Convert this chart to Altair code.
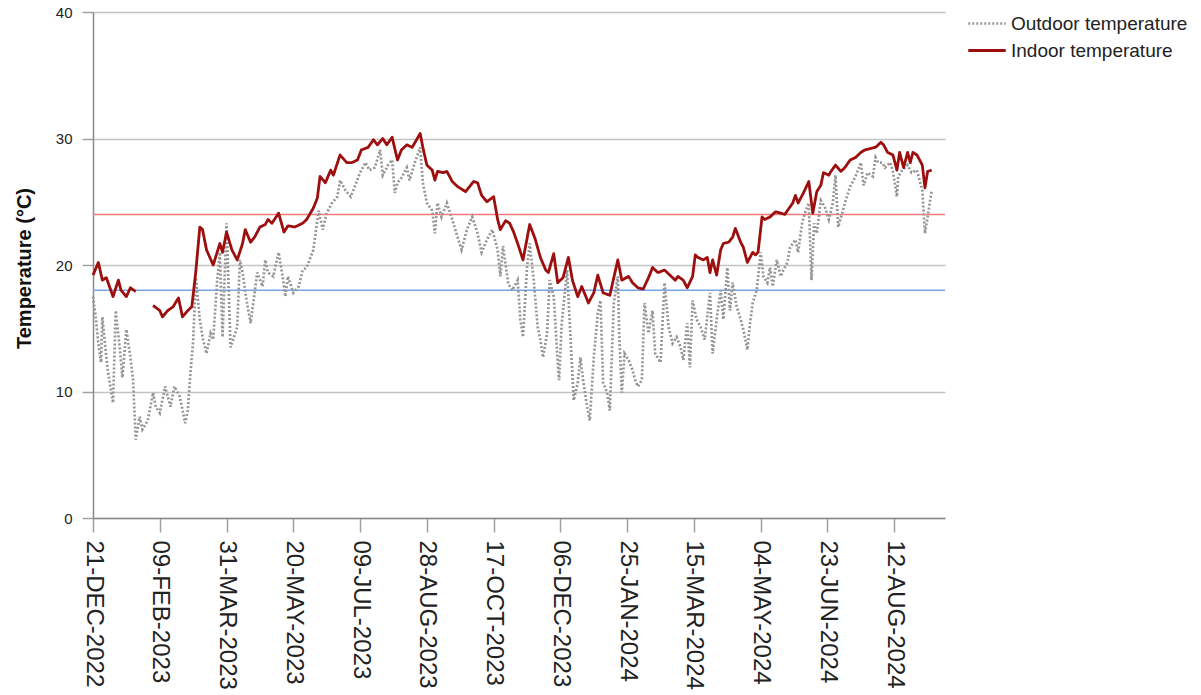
import altair as alt
import pandas as pd

START = pd.Timestamp("2022-12-21")

# Daily mean outdoor temperature (°C), sampled by day offset from START
outdoor_day = [
    0, 2, 4, 6, 7, 10, 11, 15, 17, 20, 22, 25, 28, 30, 32, 35, 37, 41, 45, 47,
    50, 54, 58, 61, 65, 69, 71, 73, 75, 77, 80, 82, 85, 88, 90, 93, 95, 97, 100, 103,
    105, 108, 110, 112, 115, 118, 120, 123, 127, 129, 131, 135, 139, 142, 144, 146, 150, 154, 157, 160,
    165, 169, 172, 175, 179, 183, 185, 189, 193, 196, 200, 204, 207, 211, 215, 217, 221, 224, 226, 228,
    231, 235, 237, 241, 245, 247, 250, 254, 256, 258, 261, 265, 269, 273, 276, 280, 284, 288, 291, 295,
    299, 303, 305, 307, 311, 314, 318, 320, 322, 325, 327, 330, 333, 335, 337, 340, 342, 345, 348, 349,
    351, 355, 357, 360, 363, 365, 367, 370, 372, 375, 378, 380, 382, 385, 387, 390, 393, 394, 396, 398,
    401, 404, 406, 408, 411, 413, 416, 419, 421, 425, 428, 431, 434, 437, 440, 442, 445, 447, 449, 452,
    455, 458, 462, 464, 467, 470, 472, 475, 477, 479, 482, 485, 487, 490, 492, 494, 497, 500, 502, 505,
    507, 509, 512, 515, 517, 520, 522, 526, 528, 531, 533, 536, 538, 540, 542, 545, 548, 551, 554, 556,
    558, 561, 563, 567, 571, 575, 577, 580, 584, 586, 588, 591, 593, 597, 599, 602, 603, 606, 610, 613,
    617, 621, 623, 625, 628,
]
outdoor_temp = [
    17.5, 15.9, 13.8, 12.3, 15.9, 12.7, 11.7, 9.1, 16.4, 13.5, 11.1, 14.9, 12.7, 10.9, 6.2, 8.0, 7.0, 7.7, 9.9, 8.8,
    8.3, 10.4, 8.8, 10.4, 9.6, 7.5, 8.5, 11.5, 14.0, 19.0, 15.7, 14.3, 13.0, 14.6, 14.1, 18.8, 21.0, 14.3, 23.3, 13.5,
    14.1, 15.1, 20.4, 19.4, 17.2, 15.4, 17.0, 19.4, 18.3, 20.4, 19.4, 19.1, 21.0, 19.1, 17.5, 19.1, 17.8, 18.3, 19.6, 19.8,
    21.2, 24.3, 22.8, 24.1, 24.9, 25.4, 26.7, 25.9, 25.4, 26.2, 27.3, 28.1, 27.5, 27.7, 29.1, 27.1, 27.9, 28.3, 25.7, 26.5,
    26.9, 27.7, 26.7, 28.1, 29.3, 26.5, 24.9, 24.3, 22.5, 24.9, 23.8, 24.9, 23.6, 22.2, 21.2, 22.8, 23.8, 22.5, 21.0, 22.0,
    22.8, 21.2, 19.1, 21.5, 18.5, 18.0, 18.8, 15.7, 14.3, 19.8, 21.7, 18.8, 15.1, 14.1, 12.7, 14.6, 18.8, 17.5, 12.3, 10.9,
    15.4, 19.6, 15.4, 9.3, 10.7, 12.7, 10.9, 8.8, 7.7, 12.7, 16.2, 17.2, 10.7, 9.9, 8.5, 17.0, 19.1, 14.6, 9.9, 13.0,
    12.5, 11.7, 10.9, 10.4, 10.9, 17.0, 14.6, 16.4, 13.0, 12.3, 18.6, 15.1, 13.8, 14.3, 13.5, 12.5, 15.4, 11.9, 17.2, 15.7,
    15.1, 14.1, 17.8, 13.0, 15.7, 18.0, 15.7, 19.8, 16.4, 18.6, 16.7, 15.7, 14.9, 13.3, 15.4, 17.0, 18.0, 21.0, 19.1, 18.6,
    19.8, 18.3, 20.4, 19.1, 19.6, 20.2, 21.4, 22.0, 21.0, 23.3, 24.1, 24.9, 18.8, 23.3, 22.5, 25.1, 24.6, 23.6, 24.9, 27.1,
    23.0, 24.1, 24.9, 26.2, 27.0, 28.1, 26.3, 27.3, 27.0, 28.5, 28.1, 28.1, 27.7, 28.1, 27.4, 25.4, 27.0, 27.5, 27.9, 27.3,
    27.5, 25.9, 22.5, 23.8, 25.9,
]

# Daily mean indoor temperature (°C); no readings between the two runs
indoor_day_a = [0, 4, 7, 10, 15, 19, 21, 25, 28, 32]
indoor_temp_a = [19.2, 20.2, 18.8, 19.0, 17.5, 18.8, 18.0, 17.5, 18.2, 17.9]

indoor_day_b = [
    45, 50, 52, 56, 60, 64, 67, 71, 74, 77, 80, 82, 85, 90, 95, 97, 100, 104, 108, 112,
    114, 118, 121, 125, 129, 131, 134, 139, 143, 146, 151, 157, 160, 165, 168, 170, 174, 178, 180, 185,
    190, 194, 198, 201, 206, 210, 213, 217, 220, 224, 228, 231, 235, 239, 245, 247, 250, 254, 256, 258,
    262, 265, 269, 273, 279, 285, 288, 291, 295, 300, 303, 305, 309, 312, 315, 318, 322, 327, 331, 335,
    339, 341, 345, 348, 352, 356, 359, 363, 366, 371, 375, 378, 382, 387, 390, 393, 396, 401, 404, 408,
    412, 416, 419, 423, 428, 432, 436, 438, 442, 445, 449, 451, 453, 457, 460, 462, 464, 467, 470, 472,
    476, 479, 481, 485, 487, 490, 494, 496, 498, 501, 503, 507, 511, 515, 518, 524, 526, 528, 532, 536,
    539, 542, 545, 547, 551, 552, 556, 560, 563, 567, 571, 575, 578, 582, 586, 590, 592, 595, 599, 602,
    604, 607, 610, 612, 614, 617, 621, 623, 625, 628,
]
indoor_temp_b = [
    16.8, 16.4, 15.9, 16.4, 16.7, 17.4, 15.9, 16.4, 16.7, 19.5, 23.0, 22.8, 21.2, 20.0, 21.7, 21.0, 22.6, 21.2, 20.4, 21.7,
    22.8, 21.8, 22.2, 23.0, 23.2, 23.6, 23.3, 24.1, 22.6, 23.1, 23.0, 23.3, 23.6, 24.5, 25.3, 27.0, 26.5, 27.5, 27.1, 28.7,
    28.1, 28.1, 28.3, 29.1, 29.3, 29.9, 29.5, 30.0, 29.5, 30.1, 28.3, 29.1, 29.5, 29.3, 30.4, 29.3, 27.9, 27.5, 26.7, 27.4,
    27.3, 27.4, 26.6, 26.2, 25.8, 26.6, 26.5, 25.5, 25.0, 25.4, 23.6, 22.8, 23.5, 23.3, 22.6, 21.7, 20.4, 23.2, 22.1, 20.6,
    19.6, 19.4, 20.9, 18.6, 19.0, 20.6, 18.8, 17.5, 18.3, 17.0, 17.8, 19.2, 17.8, 17.6, 19.0, 20.4, 18.8, 19.1, 18.6, 18.2,
    18.1, 19.0, 19.8, 19.4, 19.6, 19.2, 18.8, 19.1, 18.8, 18.2, 19.1, 20.8, 20.6, 20.4, 20.6, 19.4, 20.4, 19.2, 21.2, 21.7,
    21.8, 22.2, 22.9, 21.8, 21.4, 20.2, 21.0, 20.8, 21.0, 23.8, 23.6, 23.8, 24.2, 24.1, 24.0, 24.9, 25.5, 24.9, 25.7, 26.6,
    24.1, 25.8, 26.3, 27.3, 27.1, 27.3, 27.9, 27.4, 27.7, 28.3, 28.5, 28.9, 29.1, 29.2, 29.3, 29.7, 29.5, 28.9, 28.7, 27.5,
    28.9, 27.7, 28.9, 28.1, 28.9, 28.7, 27.9, 26.1, 27.4, 27.5,
]

# Comfort band limits (°C)
upper_limit = 24
lower_limit = 18

series_names = ["Outdoor temperature", "Indoor temperature"]
series_colors = ["#959595", "#9d0e0e"]
series_dashes = [[2, 2], [1, 0]]
series_widths = [2.7, 2.8]

tick_days = list(range(0, 601, 50))
end_day = 638

assert len(outdoor_day) == len(outdoor_temp)
assert len(indoor_day_a) == len(indoor_temp_a)
assert len(indoor_day_b) == len(indoor_temp_b)


def to_date(d):
    return (START + pd.Timedelta(days=d)).strftime("%Y-%m-%d")


def frame(days, temps, series, segment):
    return pd.DataFrame({
        "date": [to_date(d) for d in days],
        "temp": temps,
        "series": series,
        "segment": segment,
    })


outdoor = frame(outdoor_day, outdoor_temp, series_names[0], "o")
indoor = pd.concat([
    frame(indoor_day_a, indoor_temp_a, series_names[1], "a"),
    frame(indoor_day_b, indoor_temp_b, series_names[1], "b"),
])


def dt(d):
    t = START + pd.Timedelta(days=d)
    return alt.DateTime(year=t.year, month=t.month, date=t.day, utc=True)


legend = alt.Legend(
    title=None, orient="none", legendX=880, legendY=-2.5,
    symbolType="M-1.5,0L1.5,0", symbolSize=625,
    labelFontSize=19, labelFont="Liberation Sans", labelColor="#222222",
    labelOffset=10, labelLimit=0, rowPadding=3, padding=0,
)

x_enc = alt.X(
    "date:T",
    scale=alt.Scale(type="utc", domain=[dt(0), dt(end_day)]),
    axis=alt.Axis(
        values=[dt(d) for d in tick_days],
        labelExpr="upper(utcFormat(datum.value, '%d-%b-%Y'))",
        labelAngle=90, labelFontSize=24, labelPadding=8, tickSize=14,
        labelOverlap=False, grid=False, title=None,
    ),
)
y_enc = alt.Y(
    "temp:Q",
    scale=alt.Scale(domain=[0, 40], nice=False, zero=True),
    axis=alt.Axis(
        values=[0, 10, 20, 30, 40], title="Temperature (°C)",
        labelFontSize=15, labelPadding=10, tickSize=11,
        titleFontSize=20, titleFontWeight="bold", titleX=-63, titleY=256,
        titleBaseline="alphabetic", grid=True,
    ),
)
color_enc = alt.Color("series:N", scale=alt.Scale(domain=series_names, range=series_colors), legend=legend)
dash_enc = alt.StrokeDash("series:N", scale=alt.Scale(domain=series_names, range=series_dashes), legend=legend)
width_enc = alt.StrokeWidth("series:N", scale=alt.Scale(domain=series_names, range=series_widths), legend=legend)

outdoor_line = alt.Chart(outdoor).mark_line(strokeCap="butt", strokeJoin="miter").encode(
    x=x_enc, y=y_enc, color=color_enc, strokeDash=dash_enc, strokeWidth=width_enc, detail="segment:N",
)
indoor_line = alt.Chart(indoor).mark_line(strokeJoin="round").encode(
    x=x_enc, y=y_enc, color=color_enc, strokeDash=dash_enc, strokeWidth=width_enc, detail="segment:N",
)

upper_rule = alt.Chart(pd.DataFrame({"temp": [upper_limit]})).mark_rule(
    color="#f07a7a", strokeWidth=1.5
).encode(y=alt.Y("temp:Q"))
lower_rule = alt.Chart(pd.DataFrame({"temp": [lower_limit]})).mark_rule(
    color="#78a4e6", strokeWidth=1.5
).encode(y=alt.Y("temp:Q"))

chart = alt.layer(upper_rule, lower_rule, outdoor_line, indoor_line).properties(
    width=852, height=506,
    autosize=alt.AutoSizeParams(type="none"),
    padding={"left": 93, "top": 12, "right": 256, "bottom": 177},
    background="white",
).configure_view(stroke=None).configure_axis(
    labelFont="Liberation Sans", titleFont="Liberation Sans",
    labelColor="#222222", titleColor="#111111",
    domainColor="#8a8a8a", domainWidth=1.5,
    tickColor="#a0a0a0", tickWidth=1.5,
    gridColor="#c4c4c4", gridWidth=1.5,
)

chart.save("out.html", embed_options={"renderer": "svg", "actions": False})
